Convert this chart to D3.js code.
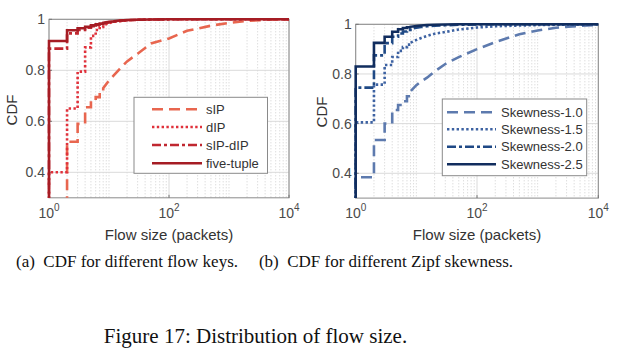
<!DOCTYPE html>
<html><head><meta charset="utf-8">
<script src="https://cdn.jsdelivr.net/npm/d3@7"></script>
<style>body{margin:0;background:#fff}svg{display:block}</style>
</head><body><svg id="fig" width="620" height="356"></svg>
<script>
// ---------- data ----------
const flowSizes = [1,2,3,4,5,6,7,8,10,12,15,20,30,50,100,200,500,1000,2000,5000,10000];

const keyNames = ["sIP","dIP","sIP-dIP","five-tuple"];
const cdfSIP      = [0.28,0.52,0.59,0.655,0.68,0.695,0.715,0.73,0.76,0.78,0.805,0.835,0.865,0.905,0.925,0.955,0.975,0.986,0.994,0.999,1.0];
const cdfDIP      = [0.40,0.65,0.795,0.89,0.935,0.958,0.97,0.977,0.985,0.99,0.993,0.996,0.998,0.999,1,1,1,1,1,1,1];
const cdfSIPDIP   = [0.885,0.945,0.958,0.967,0.973,0.978,0.981,0.984,0.988,0.991,0.994,0.996,0.998,0.999,1,1,1,1,1,1,1];
const cdfFiveTup  = [0.915,0.957,0.965,0.971,0.976,0.98,0.983,0.986,0.99,0.992,0.995,0.997,0.998,0.999,1,1,1,1,1,1,1];

const skewNames = ["Skewness-1.0","Skewness-1.5","Skewness-2.0","Skewness-2.5"];
const cdfSkew10 = [0.384,0.534,0.60,0.655,0.675,0.69,0.71,0.73,0.755,0.77,0.785,0.81,0.84,0.868,0.9,0.928,0.96,0.975,0.986,0.994,0.998];
const cdfSkew15 = [0.605,0.757,0.836,0.868,0.893,0.908,0.918,0.926,0.937,0.945,0.953,0.962,0.969,0.979,0.987,0.992,0.995,0.997,0.998,0.999,1.0];
const cdfSkew20 = [0.745,0.875,0.924,0.95,0.963,0.971,0.977,0.981,0.986,0.989,0.992,0.994,0.996,0.998,0.999,1,1,1,1,1,1];
const cdfSkew25 = [0.83,0.925,0.95,0.97,0.98,0.985,0.988,0.99,0.993,0.995,0.997,0.998,0.999,1,1,1,1,1,1,1,1];

const yTicks = [0.4,0.6,0.8,1];
const yTickLabels = ["0.4","0.6","0.8","1"];
const xTicks = [1,100,10000];
const xTickExp = ["0","2","4"];

const captionA = "(a)\u2002CDF for different flow keys.";
const captionB = "(b)\u2002CDF for different Zipf skewness.";
const figCaption = "Figure 17: Distribution of flow size.";

// ---------- drawing ----------
const svg = d3.select("#fig");
const sans = "Arial, 'Liberation Sans', Helvetica, sans-serif";
const serif = "'Liberation Serif', 'Times New Roman', Times, serif";

function panel(cfg){
  const {x0,x1,y0,y1,series,names,colors,dashes,widths,legend,id} = cfg;
  const g = svg.append("g");
  const x = d3.scaleLog().domain([1,10000]).range([x0,x1]);
  const y = d3.scaleLinear().domain([0.3,1]).range([y1,y0]);

  g.append("rect").attr("x",x0).attr("y",y0).attr("width",x1-x0).attr("height",y1-y0).attr("fill","#fff");

  // minor x grid (dotted)
  const minors = [];
  for (let e=0;e<4;e++) for (let m=2;m<=10;m++){ const v=m*Math.pow(10,e); if(!xTicks.includes(v)) minors.push(v); }
  g.selectAll(".mx").data(minors).enter().append("line")
    .attr("x1",d=>x(d)).attr("x2",d=>x(d)).attr("y1",y0).attr("y2",y1)
    .attr("stroke","#c4c4c4").attr("stroke-width",0.8).attr("stroke-dasharray","1,2");
  // major grid
  g.selectAll(".gx").data(xTicks).enter().append("line")
    .attr("x1",d=>x(d)).attr("x2",d=>x(d)).attr("y1",y0).attr("y2",y1)
    .attr("stroke","#dadada").attr("stroke-width",1);
  g.selectAll(".gy").data(yTicks).enter().append("line")
    .attr("x1",x0).attr("x2",x1).attr("y1",d=>y(d)).attr("y2",d=>y(d))
    .attr("stroke","#dadada").attr("stroke-width",1);

  // frame
  g.append("rect").attr("x",x0).attr("y",y0).attr("width",x1-x0).attr("height",y1-y0)
    .attr("fill","none").attr("stroke","#8a8a8a").attr("stroke-width",1);
  // ticks (inward)
  g.selectAll(".tx").data(xTicks).enter().append("line")
    .attr("x1",d=>x(d)).attr("x2",d=>x(d)).attr("y1",y1).attr("y2",y1-3)
    .attr("stroke","#777");
  g.selectAll(".ty").data(yTicks).enter().append("line")
    .attr("x1",x0).attr("x2",x0+3).attr("y1",d=>y(d)).attr("y2",d=>y(d))
    .attr("stroke","#777");

  // clip
  svg.append("clipPath").attr("id",id).append("rect")
    .attr("x",x0-2).attr("y",y0-2).attr("width",x1-x0+4).attr("height",y1-y0+2);

  const line = d3.line().x(d=>x(d[0])).y(d=>y(d[1]));
  function expand(vals){
    const pts=[[flowSizes[0],0.2]];
    for(let i=0;i<flowSizes.length;i++){
      pts.push([flowSizes[i],vals[i]]);
      if(i<flowSizes.length-1 && flowSizes[i+1]-flowSizes[i]===1) pts.push([flowSizes[i+1],vals[i]]);
    }
    return pts;
  }
  const lg = g.append("g").attr("clip-path",`url(#${id})`);
  series.forEach((vals,i)=>{
    lg.append("path").attr("d",line(expand(vals))).attr("fill","none")
      .attr("stroke",colors[i]).attr("stroke-width",widths[i])
      .attr("stroke-dasharray",dashes[i]).attr("stroke-linejoin","miter");
  });

  // tick labels
  g.selectAll(".yl").data(yTicks).enter().append("text")
    .attr("x",x0-4).attr("y",d=>y(d)).attr("dy","0.35em").attr("text-anchor","end")
    .attr("font-family",sans).attr("font-size",14).attr("fill","#4a4a4a")
    .text((d,i)=>yTickLabels[i]);
  xTicks.forEach((t,i)=>{
    const tx = g.append("text").attr("x",x(t)).attr("y",y1+20).attr("text-anchor","middle")
      .attr("font-family",sans).attr("font-size",14).attr("fill","#4a4a4a");
    tx.append("tspan").text("10");
    tx.append("tspan").attr("dy",-7).attr("font-size",10).text(xTickExp[i]);
  });
  g.append("text").attr("x",(x0+x1)/2).attr("y",y1+42).attr("text-anchor","middle")
    .attr("font-family",sans).attr("font-size",15).attr("fill","#333").text("Flow size (packets)");
  g.append("text").attr("transform",`translate(${cfg.ylabX},${cfg.ylabY}) rotate(-90)`)
    .attr("text-anchor","middle").attr("dy","0.35em")
    .attr("font-family",sans).attr("font-size",15).attr("fill","#333").text("CDF");

  // legend
  const L = legend;
  g.append("rect").attr("x",L.x).attr("y",L.y).attr("width",L.w).attr("height",L.h)
    .attr("fill","#fff").attr("stroke","#8a8a8a").attr("stroke-width",1);
  names.forEach((n,i)=>{
    const ry = L.rows[i];
    g.append("line").attr("x1",L.s0).attr("x2",L.s1).attr("y1",ry).attr("y2",ry)
      .attr("stroke",colors[i]).attr("stroke-width",widths[i]).attr("stroke-dasharray",dashes[i]);
    g.append("text").attr("x",L.tx).attr("y",ry).attr("dy","0.35em")
      .attr("font-family",sans).attr("font-size",13).attr("fill","#333").text(n);
  });
}

const dashPat = ["11,6","2.4,2.4","9,3,3,3",null];
const widths = [2.6,2.6,2.6,2.6];

panel({id:"clipA",x0:49,x1:289,y0:19.3,y1:197.8,
  series:[cdfSIP,cdfDIP,cdfSIPDIP,cdfFiveTup],names:keyNames,
  colors:["#e8664f","#e0313b","#c02730","#a51c24"],dashes:dashPat,widths:widths,
  ylabX:12,ylabY:110,
  legend:{x:134,y:97.3,w:133.5,h:76,rows:[109.3,127,145,163.3],s0:152,s1:202,tx:206}});

panel({id:"clipB",x0:355.7,x1:598.3,y0:24.3,y1:198.1,
  series:[cdfSkew10,cdfSkew15,cdfSkew20,cdfSkew25],names:skewNames,
  colors:["#5d7aae","#3d62a2","#1f4985","#112d5e"],dashes:dashPat,widths:widths,
  ylabX:322,ylabY:112,
  legend:{x:442.3,y:99,w:144.4,h:76.7,rows:[112.3,129.3,146.7,164.3],s0:447,s1:496,tx:501}});

// captions
svg.append("text").attr("x",127).attr("y",266.5).attr("text-anchor","middle")
  .attr("font-family",serif).attr("font-size",17).attr("fill","#111").text(captionA);
svg.append("text").attr("x",386).attr("y",266.5).attr("text-anchor","middle")
  .attr("font-family",serif).attr("font-size",17).attr("fill","#111").text(captionB);
svg.append("text").attr("x",255.5).attr("y",343).attr("text-anchor","middle")
  .attr("font-family",serif).attr("font-size",21).attr("fill","#111").text(figCaption);
</script></body></html>
